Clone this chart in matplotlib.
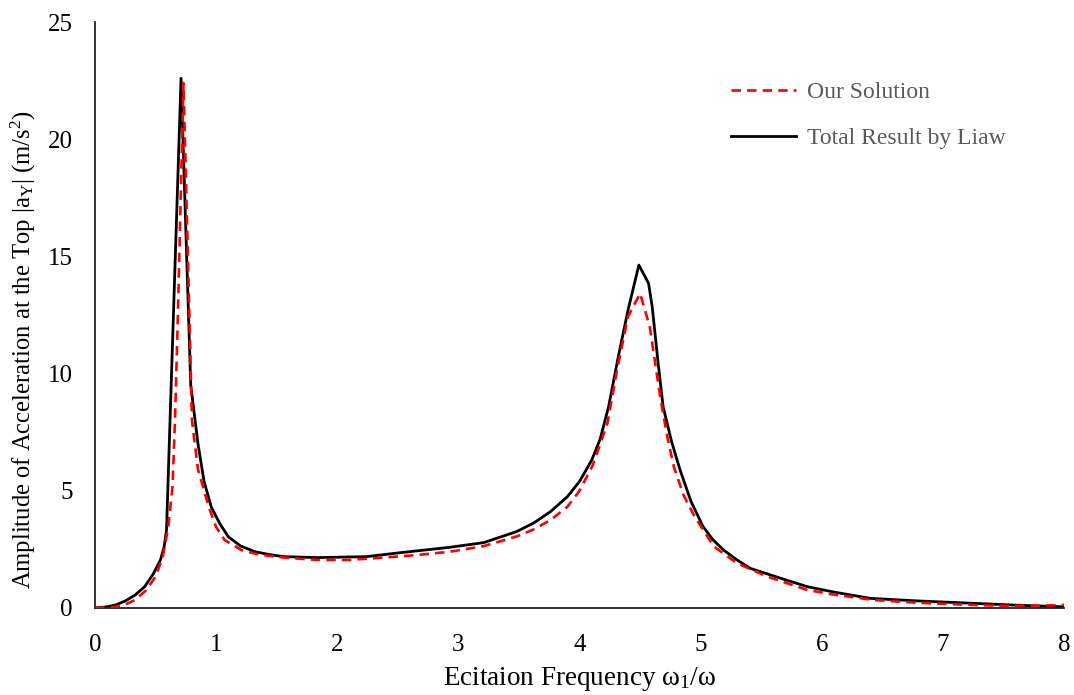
import matplotlib
matplotlib.use("Agg")
import matplotlib.pyplot as plt

plt.rcParams['font.family'] = ['Liberation Serif', 'DejaVu Serif']
plt.rcParams['mathtext.fontset'] = 'custom'
plt.rcParams['mathtext.rm'] = 'Liberation Serif'
plt.rcParams['mathtext.it'] = 'Liberation Serif:italic'
plt.rcParams['mathtext.default'] = 'rm'

# Total result by Liaw (black solid)
liaw_x = [0, 0.1, 0.17, 0.25, 0.33, 0.41, 0.48, 0.54, 0.57, 0.59, 0.71, 0.79,
          0.85, 0.9, 0.96, 1.03, 1.10, 1.2, 1.32, 1.45, 1.56, 1.83, 2.24, 2.52,
          2.93, 3.21, 3.48, 3.62, 3.76, 3.9, 4.0, 4.1, 4.17, 4.24, 4.32,
          4.40, 4.49, 4.57, 4.60, 4.65, 4.69, 4.76, 4.83, 4.92, 5.02, 5.1,
          5.19, 5.3, 5.41, 5.66, 5.88, 6.1, 6.40, 6.8, 7.25, 7.6, 8.0]
liaw_y = [0, 0.05, 0.13, 0.3, 0.55, 0.91, 1.45, 2.05, 2.6, 3.33, 22.6, 9.5,
          7.0, 5.4, 4.3, 3.6, 3.04, 2.65, 2.4, 2.27, 2.19, 2.15, 2.19, 2.36,
          2.59, 2.79, 3.26, 3.62, 4.11, 4.75, 5.4, 6.3, 7.2, 8.59, 10.72,
          12.7, 14.63, 13.85, 12.85, 10.4, 8.59, 7.1, 5.89, 4.55, 3.47, 2.92,
          2.47, 2.05, 1.69, 1.27, 0.91, 0.68, 0.41, 0.3, 0.2, 0.12, 0.05]

# our solution (red dashed)
our_x = [0, 0.17, 0.25, 0.33, 0.42, 0.5, 0.56, 0.605, 0.64, 0.66, 0.683, 0.73,
         0.78, 0.80, 0.85, 0.94, 1.0, 1.07, 1.21, 1.35, 1.56, 1.83, 2.1, 2.38,
         2.66, 2.93, 3.21, 3.48, 3.62, 3.76, 3.90, 4.0, 4.11, 4.23, 4.31,
         4.40, 4.50, 4.58, 4.67, 4.73, 4.78, 4.86, 4.95, 5.11, 5.30, 5.55,
         5.88, 6.1, 6.43, 6.8, 7.25, 7.53, 7.8, 8.0]
our_y = [0, 0.05, 0.15, 0.34, 0.75, 1.34, 2.2, 3.47, 5.2, 8.0, 12.3, 22.4,
         12.3, 8.0, 5.9, 4.3, 3.45, 2.9, 2.47, 2.28, 2.15, 2.05, 2.05, 2.15,
         2.26, 2.40, 2.64, 3.05, 3.35, 3.75, 4.32, 5.0, 6.1, 7.88, 10.15,
         12.43, 13.42, 12.0, 8.87, 7.17, 6.0, 4.8, 3.9, 2.62, 1.91, 1.34,
         0.77, 0.57, 0.34, 0.22, 0.13, 0.09, 0.1, 0.13]

fig = plt.figure(figsize=(10.74, 6.95), dpi=100)
ax = fig.add_axes([0.0885, 0.1252, 0.9022, 0.8431])

ax.plot(our_x, our_y, color='#ff0000', lw=1.9, linestyle=(0, (3.6, 2.3)),
        label='Our Solution', zorder=3)
ax.plot(liaw_x, liaw_y, color='black', lw=2.0, label='Total Result by Liaw',
        zorder=2)

ax.set_xlim(0, 8)
ax.set_ylim(0, 25)
ax.set_xticks(range(0, 9))
ax.set_yticks(range(0, 26, 5))
ax.tick_params(length=0, labelsize=18)
ax.tick_params(axis='x', pad=19)
ax.tick_params(axis='y', pad=16)
for s in ['top', 'right']:
    ax.spines[s].set_visible(False)
for s in ['left', 'bottom']:
    ax.spines[s].set_linewidth(1.3)
    ax.spines[s].set_color('#222222')

ax.set_xlabel(r'Ecitaion Frequency ω$_1$/ω', fontsize=19.5, labelpad=6)
ax.set_ylabel(r'Amplitude of Acceleration at the Top |a$_\mathrm{Y}$| (m/s$^2$)',
              fontsize=17.7)
ax.yaxis.set_label_coords(-0.059, 0.44)

leg = ax.legend(loc='upper left', bbox_to_anchor=(0.656, 0.898), frameon=False,
                fontsize=17, handlelength=2.75, handletextpad=0.47,
                labelspacing=1.04, borderaxespad=0, borderpad=0)
for t in leg.get_texts():
    t.set_color('#595959')

fig.savefig('out.png', dpi=100)
